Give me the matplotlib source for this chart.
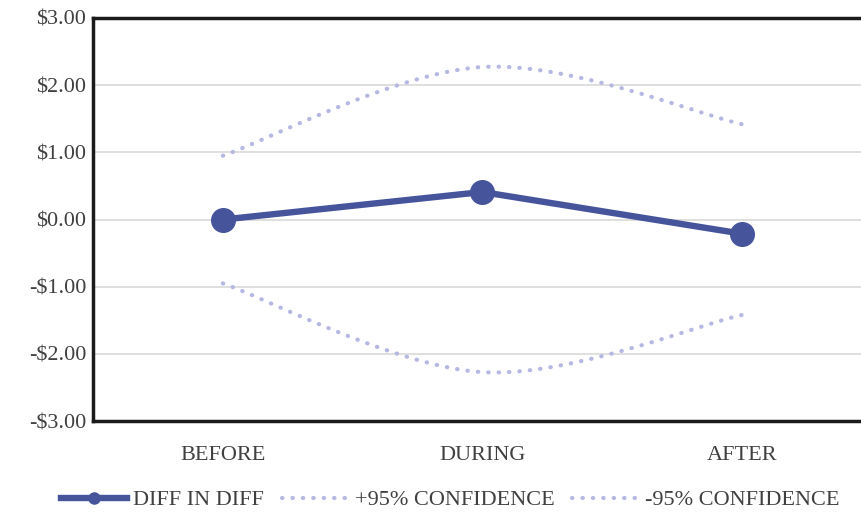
import numpy as np
import matplotlib.pyplot as plt
from matplotlib.lines import Line2D

# Data
periods = ['BEFORE', 'DURING', 'AFTER']
diff_in_diff = [0.0, 0.41, -0.21]
conf_upper = [0.95, 2.27, 1.42]
conf_lower = [-0.95, -2.27, -1.42]

col_main = '#46549c'
col_conf = '#b5b8e2'


def smooth(xs, ys, n=60):
    # Bezier smoothing through the points (like a spreadsheet "smoothed line")
    xs = np.asarray(xs, float)
    ys = np.asarray(ys, float)
    px, py = [], []
    t = np.linspace(0, 1, n)
    for i in range(len(xs) - 1):
        x0, y0 = xs[max(i - 1, 0)], ys[max(i - 1, 0)]
        x1, y1 = xs[i], ys[i]
        x2, y2 = xs[i + 1], ys[i + 1]
        x3, y3 = xs[min(i + 2, len(xs) - 1)], ys[min(i + 2, len(xs) - 1)]
        c1x, c1y = x1 + (x2 - x0) / 6, y1 + (y2 - y0) / 6
        c2x, c2y = x2 - (x3 - x1) / 6, y2 - (y3 - y1) / 6
        bx = (1-t)**3*x1 + 3*(1-t)**2*t*c1x + 3*(1-t)*t**2*c2x + t**3*x2
        by = (1-t)**3*y1 + 3*(1-t)**2*t*c1y + 3*(1-t)*t**2*c2y + t**3*y2
        px.extend(bx)
        py.extend(by)
    return np.array(px), np.array(py)


plt.rcParams['font.family'] = ['Liberation Serif', 'DejaVu Serif']

fig = plt.figure(figsize=(8.62, 5.13), dpi=100)
ax = fig.add_axes([0.108, 0.179, 0.903, 0.786])

x = np.arange(len(periods))
dots = (0, (0.1, 2.4))

sx, sy = smooth(x, conf_upper)
ax.plot(sx, sy, color=col_conf, lw=3, linestyle=dots, dash_capstyle='round', zorder=2)
sx, sy = smooth(x, conf_lower)
ax.plot(sx, sy, color=col_conf, lw=3, linestyle=dots, dash_capstyle='round', zorder=2)

ax.plot(x, diff_in_diff, color=col_main, lw=4.6, marker='o', markersize=17, zorder=3)

ax.set_xlim(-0.5, 2.5)
ax.set_ylim(-3, 3)
ax.set_xticks(x)
ax.set_xticklabels(periods)
ax.set_yticks(np.arange(-3, 4, 1))
ax.set_yticklabels(['-$%.2f' % abs(v) if v < 0 else '$%.2f' % v for v in range(-3, 4)])
ax.tick_params(length=0, labelsize=16, colors='#404040', pad=5)
ax.tick_params(axis='x', pad=18)

ax.grid(axis='y', color='#d9d9d9', lw=1.2, zorder=0)
for s in ['left', 'bottom', 'top']:
    ax.spines[s].set_linewidth(2.5)
    ax.spines[s].set_color('#1a1a1a')
ax.spines['right'].set_visible(False)

handles = [
    Line2D([], [], color=col_main, lw=4.6, marker='o', markersize=8),
    Line2D([], [], color=col_conf, lw=3, linestyle=dots, dash_capstyle='round'),
    Line2D([], [], color=col_conf, lw=3, linestyle=dots, dash_capstyle='round'),
]
fig.legend(handles, ['DIFF IN DIFF', '+95% CONFIDENCE', '-95% CONFIDENCE'],
           loc='center', bbox_to_anchor=(0.522, 0.025), ncol=3, frameon=False,
           fontsize=16, handlelength=3.0, handletextpad=0.27, columnspacing=0.8,
           labelcolor='#404040')

fig.savefig('out.png', dpi=100)
